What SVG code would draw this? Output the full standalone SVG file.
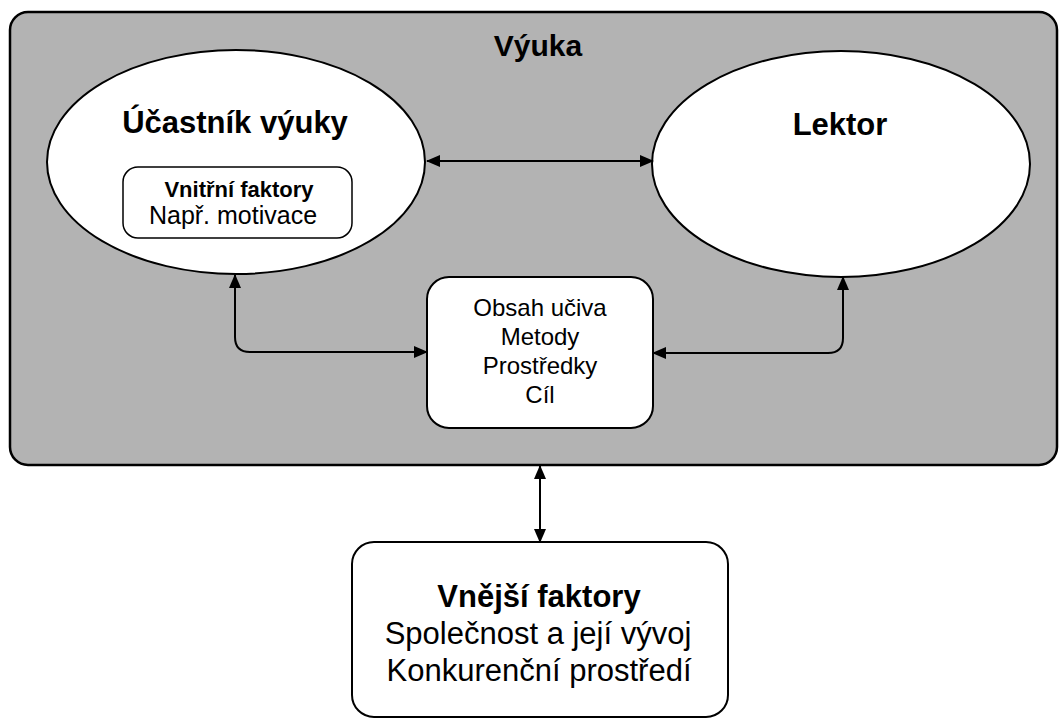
<svg xmlns="http://www.w3.org/2000/svg" width="1059" height="726" viewBox="0 0 1059 726">
<style>
.t{font-family:"Liberation Sans",Arial,sans-serif;fill:#000;text-anchor:middle}
.b{font-weight:bold}
.c{stroke:#000;stroke-width:2;fill:none}
</style>
<defs>
<marker id="ah" markerUnits="userSpaceOnUse" markerWidth="14" markerHeight="14" viewBox="0 0 14 14" refX="13" refY="7" orient="auto-start-reverse">
<path d="M0,1 L14,7 L0,13 Z" fill="#000"/>
</marker>
</defs>
<rect width="1059" height="726" fill="#fff"/>
<g id="vyuka">
<rect x="10" y="12" width="1047" height="453" rx="18" fill="#b3b3b3" stroke="#000" stroke-width="2.5"/>
<text class="t b" x="538" y="56" font-size="30">Výuka</text>
</g>
<g id="ucastnik">
<ellipse cx="236" cy="162" rx="189" ry="112" fill="#fff" stroke="#000" stroke-width="2"/>
<text class="t b" x="235" y="133" font-size="31">Účastník výuky</text>
</g>
<g id="vnitrni">
<rect x="123" y="167" width="229" height="71" rx="15" fill="#fff" stroke="#000" stroke-width="1.5"/>
<text class="t b" x="239" y="197" font-size="22">Vnitřní faktory</text>
<text class="t" x="233" y="224" font-size="25">Např. motivace</text>
</g>
<g id="lektor">
<ellipse cx="841" cy="164" rx="189" ry="113" fill="#fff" stroke="#000" stroke-width="2"/>
<text class="t b" x="840" y="135" font-size="31">Lektor</text>
</g>
<g id="obsah">
<rect x="427" y="277" width="226" height="151" rx="22" fill="#fff" stroke="#000" stroke-width="2"/>
<text class="t" x="540" y="316" font-size="24">Obsah učiva</text>
<text class="t" x="540" y="345" font-size="24">Metody</text>
<text class="t" x="540" y="374" font-size="24">Prostředky</text>
<text class="t" x="540" y="403" font-size="24">Cíl</text>
</g>
<g id="vnejsi">
<rect x="352" y="542" width="376" height="175" rx="22" fill="#fff" stroke="#000" stroke-width="2"/>
<text class="t b" x="539" y="607" font-size="31">Vnější faktory</text>
<text class="t" x="538" y="644" font-size="31">Společnost a její vývoj</text>
<text class="t" x="539" y="681" font-size="31">Konkurenční prostředí</text>
</g>
<g id="connectors">
<path class="c" d="M427,161 L653,161" marker-start="url(#ah)" marker-end="url(#ah)"/>
<path class="c" d="M235,275 L235,337 Q235,352 250,352 L427,352" marker-start="url(#ah)" marker-end="url(#ah)"/>
<path class="c" d="M653,353 L828,353 Q843,353 843,338 L843,277" marker-start="url(#ah)" marker-end="url(#ah)"/>
<path class="c" d="M540,466 L540,542" stroke-width="1.5" marker-start="url(#ah)" marker-end="url(#ah)"/>
</g>
</svg>
